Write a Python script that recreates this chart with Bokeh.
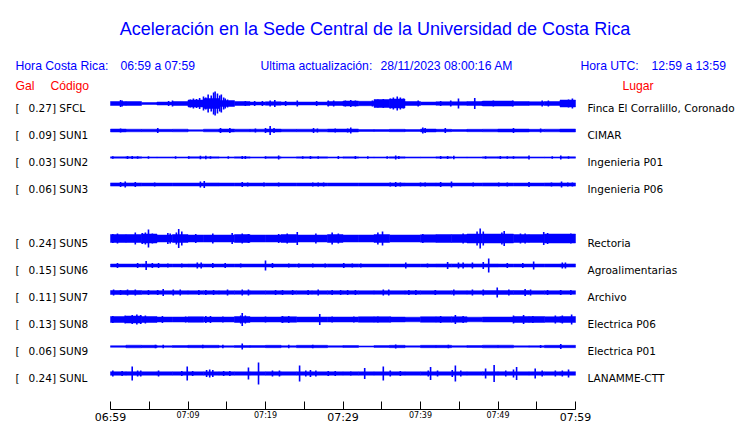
from bokeh.plotting import figure
from bokeh.models import Range1d, FixedTicker
from bokeh.layouts import column
from bokeh.core.properties import value
from bokeh.embed import file_html
from bokeh.resources import INLINE

# ---------------- data ----------------
title_text = "Aceleración en la Sede Central de la Universidad de Costa Rica"
local_label = "Hora Costa Rica:"
local_span = "06:59 a 07:59"
update_label = "Ultima actualización:"
update_value = "28/11/2023 08:00:16 AM"
utc_label = "Hora UTC:"
utc_span = "12:59 a 13:59"

codes = ["SFCL", "SUN1", "SUN2", "SUN3", "SUN5", "SUN6", "SUN7", "SUN8", "SUN9", "SUNL"]
peak_gal = ["0.27", "0.09", "0.03", "0.06", "0.24", "0.15", "0.11", "0.13", "0.06", "0.24"]
places = ["Finca El Corralillo, Coronado", "CIMAR", "Ingenieria P01", "Ingenieria P06",
          "Rectoria", "Agroalimentarias", "Archivo", "Electrica P06", "Electrica P01",
          "LANAMME-CTT"]
slots = [0, 1, 2, 3, 5, 6, 7, 8, 9, 10]   # SUN4 slot is empty

# time axis (minutes after 06:59)
tick_minutes = [0, 5, 10, 15, 20, 25, 30, 35, 40, 45, 50, 55, 60]
tick_text = ["06:59", "", "07:09", "", "07:19", "", "07:29", "", "07:39", "", "07:49", "", "07:59"]
big_ticks = [0, 30, 60]
bin_edges = [0, 2, 4, 6, 8, 10, 12, 14, 16, 18, 20, 22, 24, 26, 28, 30,
             32, 34, 36, 38, 40, 42, 44, 46, 48, 50, 52, 54, 56, 58, 60]

# background envelope (half amplitude, relative units) per 2-minute bin
base = {
    "SFCL": [2, 2, 1, 1.5, 2, 3.5, 5, 3, 2, 1.5, 1.8, 1.5, 1.5, 1.5, 2,
             2.5, 2.2, 4, 4.5, 2, 1.5, 1.8, 1.8, 2, 2.5, 2.5, 2, 1.8, 2, 3.5],
    "SUN1": [1.5, 1.3, 1.3, 1.2, 1.3, 0.8, 1.3, 1.5, 1.3, 1.3, 1.5, 1.3, 1.3, 1.3, 1.5,
             1.5, 1.0, 1.0, 1.2, 1.0, 1.5, 1.2, 1.0, 1.2, 1.3, 1.5, 1.5, 1.2, 1.3, 1.5],
    "SUN2": [0.7, 0.8, 0.6, 0.6, 0.6, 0.7, 0.7, 0.6, 0.7, 0.6, 0.7, 0.6, 0.7, 0.7, 0.6,
             0.7, 0.6, 0.6, 0.7, 0.6, 0.6, 0.7, 0.6, 0.6, 0.7, 0.7, 0.7, 0.6, 0.6, 0.7],
    "SUN3": [1.6, 1.6, 1.5, 1.5, 1.5, 1.5, 1.6, 1.5, 1.5, 1.5, 1.5, 1.5, 1.5, 1.5, 1.5,
             1.5, 1.5, 1.5, 1.6, 1.5, 1.6, 1.6, 1.5, 1.5, 1.6, 1.5, 1.5, 1.5, 1.6, 1.6],
    "SUN5": [4, 4, 4.5, 3.5, 4, 3.5, 3.5, 3.5, 4, 3.5, 3.5, 4, 3.5, 3.5, 4,
             3.5, 3.5, 4, 3.5, 3.5, 3.8, 4, 4, 4.5, 4.5, 4.5, 4, 4, 4.5, 4.5],
    "SUN6": [1.5, 1.5, 1.6, 1.5, 1.5, 1.6, 1.5, 1.5, 1.5, 1.5, 1.5, 1.5, 1.5, 1.5, 1.6,
             1.6, 1.5, 1.5, 1.5, 1.5, 1.5, 1.6, 1.6, 1.6, 1.6, 1.5, 1.5, 1.5, 1.5, 1.6],
    "SUN7": [2, 2, 1.8, 1.8, 1.8, 1.8, 1.8, 1.8, 1.8, 1.8, 1.8, 1.8, 1.8, 1.8, 1.8,
             1.8, 1.8, 1.8, 1.8, 1.8, 1.8, 1.8, 1.8, 1.8, 1.9, 1.9, 1.9, 1.8, 1.8, 1.8],
    "SUN8": [3, 3.5, 3, 2.5, 2.5, 2.8, 2.5, 2.5, 3, 2.5, 2.5, 2.8, 2.5, 2.5, 2.5,
             2.5, 2.8, 2.8, 2.5, 2.3, 2.8, 2.8, 2.8, 2.3, 2.5, 2.5, 3, 3, 2.8, 3],
    "SUN9": [0.8, 1.3, 1.2, 0.8, 1.0, 1.2, 1.2, 0.8, 1.0, 1.0, 1.2, 0.8, 1.2, 1.2, 0.8,
             1.0, 0.6, 0.9, 1.2, 0.7, 1.2, 1.2, 0.8, 1.0, 1.3, 1.3, 0.7, 0.8, 1.2, 1.2],
    "SUNL": [1.8, 1.8, 1.7, 1.7, 1.7, 1.7, 1.7, 1.7, 1.7, 1.7, 1.8, 1.7, 1.7, 1.7, 1.7,
             1.7, 1.7, 1.7, 1.7, 1.7, 1.7, 1.7, 1.7, 1.7, 1.8, 1.8, 1.7, 1.7, 1.7, 1.8],
}

# individual bursts: minute, half amplitude
ev_t = {
    "SFCL": [1.3, 1.5, 7.5, 8.0, 10.3, 10.7, 11.1, 11.5, 12.0, 12.3, 12.6, 13.0, 13.3, 13.5,
             13.8, 14.1, 14.3, 14.6, 14.8, 15.1, 17.4, 18.6, 19.6, 20.6, 21.2, 22.6, 24.1,
             26.6, 28.1, 28.8, 30.3, 31.0, 31.6, 33.8, 34.5, 35.2, 36.1, 36.5, 37.0, 37.4,
             37.8, 39.7, 42.6, 43.9, 44.9, 47.0, 48.0, 49.4, 51.9, 55.7, 56.5, 59.1, 59.6],
    "SUN1": [1.3, 6.1, 14.2, 15.4, 18.7, 20.0, 20.6, 21.1, 26.2, 26.7, 29.0, 30.6, 31.0,
             40.3, 40.6, 43.2, 52.0, 55.5],
    "SUN2": [0.3, 2.2, 2.8, 3.5, 4.9, 8.4, 10.1, 11.6, 12.3, 12.9, 15.2, 17.0, 17.4, 20.0,
             21.7, 24.8, 25.8, 26.8, 29.4, 31.6, 33.2, 35.7, 36.8, 37.2, 42.6, 43.5, 44.3,
             48.4, 50.3, 51.2, 52.0, 54.0, 57.0, 58.1, 59.1],
    "SUN3": [1.3, 1.9, 3.2, 5.7, 11.6, 12.1, 17.0, 17.7, 19.8, 21.7, 26.1, 26.8, 27.5,
             36.1, 36.8, 37.4, 40.0, 40.6, 42.6, 44.0, 46.8, 50.1, 51.2, 54.0, 56.9, 58.2,
             59.0, 59.6],
    "SUN5": [0.3, 0.9, 3.2, 4.1, 4.5, 4.9, 5.4, 7.4, 7.7, 8.5, 8.8, 9.2, 11.0, 13.2, 15.7,
             17.0, 17.8, 21.7, 22.8, 24.1, 26.5, 28.6, 29.4, 34.5, 35.1, 40.3, 45.5, 47.3,
             47.7, 48.1, 50.5, 50.8, 52.9, 53.5, 55.9, 56.4, 59.4],
    "SUN6": [0.9, 3.5, 4.6, 5.4, 6.2, 7.4, 9.2, 11.2, 11.7, 13.2, 14.8, 16.8, 20.0, 20.9,
             23.0, 24.3, 26.1, 27.7, 30.1, 31.2, 32.3, 38.1, 40.9, 43.5, 44.9, 45.5, 46.7,
             48.1, 48.8, 51.2, 53.2, 54.6, 58.3, 58.7],
    "SUN7": [0.4, 1.3, 2.2, 3.2, 4.9, 6.1, 6.8, 8.1, 9.0, 11.4, 12.3, 13.3, 15.1, 17.0,
             17.8, 21.3, 22.2, 23.5, 25.5, 26.8, 28.6, 29.7, 30.6, 31.6, 35.2, 35.9, 38.5,
             39.4, 41.9, 44.3, 46.7, 48.1, 49.9, 51.4, 53.5, 54.2, 56.4, 58.1, 59.4],
    "SUN8": [0.3, 1.9, 2.8, 3.4, 3.9, 4.5, 6.7, 9.7, 12.3, 12.9, 14.5, 16.8, 17.0, 17.4,
             20.0, 22.2, 23.0, 27.0, 28.6, 31.4, 34.5, 36.1, 42.6, 44.5, 45.5, 52.0, 53.3,
             54.5, 57.4, 58.3, 59.5],
    "SUN9": [5.8, 6.8, 11.9, 14.5, 17.0, 23.0, 26.1, 36.8, 43.6, 55.5, 58.1],
    "SUNL": [0.3, 1.5, 2.8, 3.5, 3.9, 6.2, 9.2, 9.9, 10.6, 12.4, 12.8, 13.2, 14.6, 15.4,
             17.8, 19.1, 20.9, 21.8, 24.4, 25.2, 25.8, 26.5, 28.1, 29.0, 31.0, 32.8, 35.2,
             36.1, 37.4, 41.0, 41.3, 42.2, 44.1, 44.5, 45.2, 48.4, 49.5, 51.0, 52.0, 52.4,
             54.8, 55.7, 57.4, 58.3, 59.1],
}
ev_a = {
    "SFCL": [3.5, 3, 2.5, 3, 4, 5, 4.5, 5.5, 7, 6, 9, 8, 11, 12,
             10, 8, 9, 6, 5, 4, 2.5, 2.5, 2.5, 3, 3.5, 2.5, 3,
             2.5, 3, 3, 3, 3.5, 3, 3, 4, 4.5, 5, 6, 7, 6,
             5, 3, 2.5, 3, 5, 5.5, 2.5, 3, 3, 3, 3, 4, 5],
    "SUN1": [2, 2.5, 2.5, 2.5, 2, 2.5, 4.5, 2.5, 2.5, 2, 2, 2, 3,
             3, 2.5, 2.5, 2.5, 2],
    "SUN2": [1.3, 1.5, 1.5, 1.2, 1.2, 1.2, 1.2, 1.8, 1.8, 1.3, 1.2, 1.5, 1.5, 1.3,
             2, 1.3, 1.5, 1.3, 1.5, 1.5, 1.2, 1.2, 2, 1.5, 1.5, 1.5, 1.8,
             1.2, 1.5, 1.3, 1.3, 2, 1.2, 2, 1.3],
    "SUN3": [2.5, 3, 2.5, 2, 3, 3.5, 2.5, 2, 2, 2, 2, 2, 2,
             2, 2.5, 2, 2, 2, 2.5, 3, 2, 2, 2, 2.5, 2, 3,
             2, 2],
    "SUN5": [4.5, 5, 6, 5.5, 6, 9, 5, 5.5, 5, 6, 9.5, 7, 4.5, 5, 5.5,
             5, 4.5, 4.5, 5, 6.5, 5, 6, 5, 6, 7, 4.5, 5, 7,
             10, 7, 6, 7.5, 5, 5, 6.5, 5.5, 5],
    "SUN6": [2.5, 2.5, 4.5, 2.5, 2.5, 2, 2, 3, 3, 2.5, 2.5, 2, 5, 2.5,
             2, 2, 2, 2, 2.5, 2, 2, 3, 2, 3.5, 3, 3, 3,
             3.5, 7, 2.5, 2.5, 4, 3, 3],
    "SUN7": [3, 2.5, 3, 3, 2.5, 2.5, 3.5, 3, 3, 2.5, 2.5, 2.5, 3, 3,
             3, 2.5, 2.5, 2.5, 2.5, 3, 2.5, 2.5, 2.5, 2.5, 3, 3, 2.5,
             2.5, 2.5, 3, 3, 3, 5, 3, 3.5, 3, 2.5, 2.5, 2.5],
    "SUN8": [3.5, 4, 4.5, 5, 4.5, 4, 3.5, 3, 3.5, 3.5, 3, 4, 6.5, 4,
             3, 3.5, 3.5, 5.5, 3, 3, 3, 3, 3.5, 4.5, 3.5, 4, 4.5,
             3.5, 4, 4, 5],
    "SUN9": [1.8, 1.8, 1.8, 1.8, 3, 1.8, 1.8, 2, 1.8, 1.5, 2.5],
    "SUNL": [3, 2.5, 7, 3, 3, 3, 2.5, 7, 2.5, 3.5, 4, 3.5, 2.5, 2.5,
             6, 11, 3, 3, 8, 3, 3.5, 3, 2.5, 2.5, 2, 5.5, 7,
             3, 2.5, 3, 6.5, 3, 3.5, 8, 3, 5, 8.5, 3, 4, 6.5,
             5, 3, 3, 3, 4],
}

# ---------------- layout (page pixels) ----------------
W, H = 740, 423
AXIS_Y = 409           # page y of the time axis line
TOP_H = AXIS_Y + 1     # main figure height (1 px border below the frame for the axis line)
X_T0 = 110.0           # page x of 06:59
PX_PER_MIN = 7.75      # 465 px for 60 minutes
ROW0, ROW_STEP = 103, 27
BLUE = "#0000ff"
RED = "#ff0000"


def xm(page_x):
    return (page_x - X_T0) / PX_PER_MIN


x_range = Range1d(xm(0), xm(W))

p = figure(width=W, height=TOP_H, output_backend="svg", toolbar_location=None,
           x_range=x_range, y_range=Range1d(AXIS_Y, 0),
           y_axis_location=None, min_border_left=0, min_border_right=0,
           min_border_top=0, min_border_bottom=TOP_H - AXIS_Y)
p.grid.visible = False
p.outline_line_color = None
p.background_fill_color = "white"
p.border_fill_color = "white"

ax = p.xaxis[0]
ax.ticker = FixedTicker(ticks=tick_minutes)
ax.major_label_overrides = {t: "" for t in tick_minutes}
ax.major_label_text_font_size = "0px"
ax.major_label_standoff = 0
ax.bounds = (tick_minutes[0], tick_minutes[-1])
ax.major_tick_in = 8
ax.major_tick_out = 0
ax.minor_tick_line_color = None
ax.axis_line_color = "black"
ax.major_tick_line_color = "black"

# traces
for code, slot in zip(codes, slots):
    yc = ROW0 + ROW_STEP * slot
    amps = base[code]
    p.quad(left=bin_edges[:-1], right=bin_edges[1:],
           top=[yc - a for a in amps], bottom=[yc + a for a in amps],
           fill_color=BLUE, line_color=BLUE, line_width=0.5)
    ts, aa = ev_t[code], ev_a[code]
    p.segment(x0=ts, x1=ts, y0=[yc - a for a in aa], y1=[yc + a for a in aa],
              line_color=BLUE, line_width=1.6)

# title and header texts
p.text(x=[xm(374.5)], y=[28], text=[title_text], text_font=value("Liberation Sans"),
       text_font_size="18px", text_color=BLUE, text_align="center", text_baseline="alphabetic")
p.text(x=[xm(15), xm(120), xm(260), xm(380), xm(580), xm(651)], y=[65] * 6,
       text=[local_label, local_span, update_label, update_value, utc_label, utc_span],
       text_font=value("Liberation Sans"), text_font_size="12.2px", text_color=BLUE,
       text_baseline="alphabetic")
p.text(x=[xm(15), xm(50), xm(622)], y=[85] * 3, text=["Gal", "Código", "Lugar"],
       text_font=value("Liberation Sans"), text_font_size="12.2px", text_color=RED,
       text_baseline="alphabetic")

rows_y = [ROW0 + ROW_STEP * s + 4 for s in slots]
p.text(x=[xm(15)] * len(codes), y=rows_y, text=["["] * len(codes),
       text_font=value("DejaVu Sans"), text_font_size="10.5px", text_color="black",
       text_baseline="alphabetic")
p.text(x=[xm(28)] * len(codes), y=rows_y, text=[f"{g}] {c}" for g, c in zip(peak_gal, codes)],
       text_font=value("DejaVu Sans"), text_font_size="10.5px", text_color="black",
       text_baseline="alphabetic")
p.text(x=[xm(587)] * len(codes), y=rows_y, text=places,
       text_font=value("DejaVu Sans"), text_font_size="10.5px", text_color="black",
       text_baseline="alphabetic")

# strip under the axis carrying the tick labels (same time scale)
q = figure(width=W, height=H - TOP_H, output_backend="svg", toolbar_location=None,
           x_range=x_range, y_range=Range1d(H, TOP_H),
           x_axis_location=None, y_axis_location=None,
           min_border_left=0, min_border_right=0, min_border_top=0, min_border_bottom=0)
q.grid.visible = False
q.outline_line_color = None
q.background_fill_color = "white"
q.border_fill_color = "white"

small_t = [t for t, s in zip(tick_minutes, tick_text) if s and t not in big_ticks]
small_s = [s for t, s in zip(tick_minutes, tick_text) if s and t not in big_ticks]
big_s = [s for t, s in zip(tick_minutes, tick_text) if t in big_ticks]
q.text(x=small_t, y=[TOP_H] * len(small_t), text=small_s, text_font=value("DejaVu Sans"),
       text_font_size="8px", text_color="black", text_align="center", text_baseline="top")
q.text(x=big_ticks, y=[TOP_H] * len(big_ticks), text=big_s, text_font=value("DejaVu Sans"),
       text_font_size="11px", text_color="black", text_align="center", text_baseline="top")

open("out.html", "w").write(file_html(column(p, q, spacing=0), INLINE))
